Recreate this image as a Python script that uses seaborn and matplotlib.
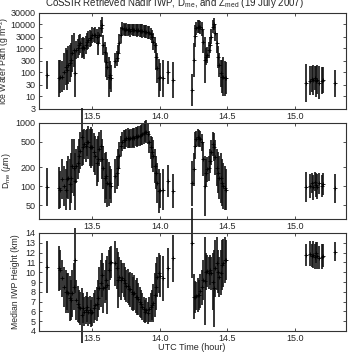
import matplotlib
matplotlib.use("Agg")
import matplotlib.pyplot as plt
import numpy as np
import pandas as pd
import seaborn as sns
from matplotlib.ticker import FixedLocator, FixedFormatter, NullLocator

# UTC time of each retrieval (hour)
times = [
    13.165,
    13.254, 13.262, 13.274, 13.289, 13.301, 13.309, 13.321,
    13.33, 13.34, 13.35, 13.36, 13.37, 13.38, 13.39, 13.40, 13.41, 13.42,
    13.43, 13.44, 13.45, 13.46, 13.47, 13.48, 13.49, 13.50, 13.51, 13.52,
    13.53, 13.54, 13.55, 13.56, 13.57, 13.58, 13.59, 13.60, 13.61, 13.62,
    13.63, 13.64,
    13.67, 13.68, 13.69, 13.70, 13.71, 13.72, 13.73, 13.74, 13.75, 13.76,
    13.77, 13.78, 13.79, 13.80, 13.81, 13.82, 13.83, 13.84, 13.85, 13.86,
    13.87, 13.88, 13.89, 13.90, 13.91, 13.92, 13.93, 13.94, 13.95, 13.96,
    13.97, 13.98, 13.99, 14.00,
    14.025, 14.062, 14.099,
    14.235,
    14.25, 14.26, 14.27, 14.28, 14.29, 14.30, 14.31, 14.32, 14.33, 14.34,
    14.35, 14.36, 14.37, 14.38, 14.39, 14.40, 14.41, 14.42, 14.43, 14.44,
    14.45, 14.46, 14.47, 14.48, 14.49,
    15.085, 15.11, 15.125, 15.135, 15.145, 15.155, 15.165, 15.18, 15.20, 15.21,
    15.295,
]

# ice water path (g m-2) and its multiplicative error
iwp = [
    80,
    57, 67, 67, 108, 174, 126, 204,
    240, 330, 626, 861, 92, 861, 1010, 1390, 1630, 1010,
    1190, 1010, 1390, 1920, 2250, 2640, 2640, 3630, 3630, 3630,
    3100, 1630, 3630, 6890, 9500, 1390, 734, 281, 174, 67,
    78, 57,
    310, 390, 626, 1630, 3630, 6890, 6500, 5870, 6200, 5870,
    6200, 5500, 6200, 5870, 5870, 5870, 5500, 5870, 5500, 5500,
    5300, 5300, 5000, 5000, 4700, 4600, 4000, 3100, 1920, 1390,
    455, 148, 57, 67,
    57, 100, 48,
    19,
    330, 3400, 6890, 8090, 8090, 7600, 6200, 1920, 330, 455,
    533, 861, 1390, 3100, 8090, 10100, 4600, 1630, 455, 204,
    92, 67, 67, 57, 57,
    35, 45, 55, 48, 60, 42, 50, 38, 45, 48,
    35,
]
iwp_err = [
    3.8,
    5.8, 4.9, 4.5, 5.8, 5.8, 6.8, 6.2,
    5.8, 4.9, 5.8, 4.9, 9.5, 2.45, 2.45, 2.6, 2.45, 2.6,
    2.6, 2.8, 2.45, 2.2, 2.45, 2.2, 2.1, 2.1, 1.9, 2.1,
    2.1, 3.1, 2.1, 2.2, 2.1, 2.6, 2.6, 4.2, 3.6, 6.8,
    4.0, 3.6,
    2.1, 2.1, 2.2, 2.45, 2.2, 1.9, 1.8, 1.75, 1.8, 1.8,
    1.75, 1.85, 1.75, 1.8, 1.85, 1.8, 1.85, 1.8, 1.9, 1.85,
    1.9, 1.85, 1.9, 1.85, 1.9, 1.85, 1.75, 1.9, 2.2, 2.2,
    3.6, 4.2, 6.2, 3.8,
    6.0, 3.0, 5.8,
    4.6,
    4.9, 2.9, 1.9, 1.9, 1.9, 1.9, 1.95, 3.1, 9.4, 2.2,
    2.2, 2.2, 2.2, 2.1, 1.9, 1.8, 2.2, 2.6, 2.9, 3.1,
    3.6, 4.9, 6.4, 5.3, 4.6,
    6.2, 4.0, 3.5, 4.2, 3.2, 4.4, 4.0, 4.8, 3.6, 3.4,
    3.7,
]

# median mass-equivalent diameter (um) and its multiplicative error
dme = [
    97,
    94, 88, 128, 100, 88, 128, 136,
    106, 136, 208, 196, 120, 208, 236, 301, 362, 600,
    409, 462, 435, 491, 491, 410, 410, 410, 341, 301,
    236, 267, 385, 435, 267, 196, 136, 145, 113, 107,
    113, 100,
    145, 163, 196, 301, 435, 503, 542, 542, 570, 575,
    556, 575, 575, 591, 575, 612, 605, 628, 628, 643,
    660, 684, 727, 727, 667, 503, 410, 341, 301, 208,
    163, 113, 83, 86,
    88, 120, 83,
    110,
    185, 435, 556, 591, 575, 556, 491, 267, 100, 163,
    185, 190, 250, 341, 462, 410, 284, 196, 163, 136,
    136, 113, 100, 94, 88,
    97, 100, 112, 95, 118, 105, 98, 110, 100, 108,
    92,
]
dme_err = [
    1.98,
    2.14, 1.96, 2.09, 2.09, 2.14, 1.96, 2.22,
    2.5, 2.5, 2.66, 2.83, 2.83, 1.84, 1.84, 1.84, 1.96, 2.9,
    1.89, 1.74, 1.8, 1.63, 1.8, 1.96, 2.14, 1.96, 2.03, 2.03,
    2.36, 2.3, 1.84, 1.8, 2.09, 2.22, 2.5, 2.36, 2.4, 2.22,
    1.84, 1.89,
    1.84, 1.84, 1.96, 1.63, 1.44, 1.41, 1.41, 1.41, 1.39, 1.43,
    1.41, 1.41, 1.41, 1.41, 1.43, 1.43, 1.45, 1.43, 1.45, 1.43,
    1.45, 1.45, 1.48, 1.52, 1.44, 1.5, 1.53, 1.74, 1.8, 1.84,
    1.84, 2.09, 2.22, 1.89,
    2.09, 1.8, 1.84,
    2.3,
    1.84, 1.63, 1.36, 1.36, 1.36, 1.36, 1.36, 1.84, 3.0, 1.63,
    1.59, 1.57, 1.53, 1.59, 1.53, 1.67, 1.89, 1.96, 2.09, 2.22,
    2.5, 2.36, 2.3, 2.22, 2.09,
    1.72, 1.55, 1.45, 1.6, 1.4, 1.55, 1.6, 1.45, 1.5, 1.5,
    1.7,
]

# median IWP height (km) and its +/- error (km)
zmed = [
    10.56,
    10.39, 10.22, 9.37, 8.52, 8.0, 8.0, 7.84,
    7.33, 7.16, 7.84, 8.52, 11.2, 7.16, 6.76, 6.48, 6.3, 5.6,
    6.31, 5.97, 6.14, 6.41, 5.97, 6.14, 5.80, 5.97, 6.31, 6.65,
    6.76, 7.33, 8.35, 8.86, 9.71, 8.35, 8.52, 9.20, 8.69, 10.22,
    10.90, 11.07,
    10.90, 10.39, 9.20, 9.54, 9.20, 9.37, 9.20, 8.86, 8.59, 8.59,
    8.25, 8.25, 8.01, 7.78, 7.91, 7.50, 7.50, 7.23, 7.0, 6.76,
    6.48, 6.21, 5.97, 6.14, 5.87, 6.21, 6.41, 6.65, 6.89, 7.67,
    8.52, 9.54, 9.88, 9.61,
    9.37, 10.39, 11.41,
    13.0,
    7.50, 7.50, 7.57, 7.67, 7.67, 8.08, 8.46, 9.20, 9.1, 10.05,
    10.15, 9.95, 10.22, 9.88, 9.03, 8.35, 10.39, 10.90, 10.05, 9.54,
    9.95, 10.73, 10.97, 11.24, 11.24,
    11.76, 11.9, 11.7, 11.8, 11.6, 12.0, 11.7, 11.5, 11.6, 11.7,
    12.1,
]
zmed_err = [
    2.65,
    2.28, 2.04, 1.87, 2.04, 2.2, 1.87, 2.04,
    2.28, 2.04, 2.38, 2.38, 3.3, 2.04, 1.8, 1.7, 1.7, 2.8,
    1.53, 1.46, 1.46, 1.53, 1.46, 1.46, 1.36, 1.46, 1.53, 1.53,
    1.77, 1.87, 2.21, 2.38, 2.21, 2.55, 1.7, 2.04, 3.0, 2.04,
    1.7, 1.63,
    2.28, 2.11, 2.89, 2.04, 2.04, 1.53, 1.77, 1.7, 1.63, 1.77,
    1.63, 1.77, 1.87, 1.77, 1.77, 1.7, 1.87, 1.63, 1.53, 1.46,
    1.36, 1.29, 1.19, 1.19, 1.12, 1.29, 1.46, 1.53, 1.94, 2.21,
    2.38, 2.04, 2.04, 2.11,
    2.28, 2.04, 2.38,
    3.6,
    2.28, 1.63, 1.46, 1.7, 1.53, 1.77, 1.77, 2.04, 4.5, 1.87,
    1.63, 1.63, 1.53, 1.7, 2.89, 3.9, 2.89, 2.72, 2.21, 2.04,
    2.28, 2.55, 2.45, 2.38, 2.04,
    1.1, 1.3, 1.2, 1.4, 1.3, 1.1, 1.4, 1.2, 1.3, 1.2,
    1.0,
]

iwp_ticks = [3, 10, 30, 100, 300, 1000, 3000, 10000, 30000]
dme_ticks = [50, 100, 200, 500, 1000]
zmed_ticks = [4, 5, 6, 7, 8, 9, 10, 11, 12, 13, 14]
time_ticks = [13.5, 14.0, 14.5, 15.0]

df = pd.DataFrame({"time": times})
df["iwp"] = iwp
df["iwp_lo"] = df["iwp"] / np.array(iwp_err)
df["iwp_hi"] = df["iwp"] * np.array(iwp_err)
df["dme"] = dme
df["dme_lo"] = df["dme"] / np.array(dme_err)
df["dme_hi"] = df["dme"] * np.array(dme_err)
df["zmed"] = zmed
df["zmed_lo"] = df["zmed"] - np.array(zmed_err)
df["zmed_hi"] = df["zmed"] + np.array(zmed_err)

sns.set_style("ticks")
plt.rcParams["font.family"] = ["Liberation Sans", "DejaVu Sans"]
plt.rcParams["mathtext.fontset"] = "custom"
plt.rcParams["mathtext.rm"] = "Liberation Sans"
plt.rcParams["mathtext.it"] = "Liberation Sans:italic"
plt.rcParams["font.size"] = 6.5

fig = plt.figure(figsize=(3.49, 3.53), dpi=100)
W, H = 349, 353
boxes = [(13, 109), (123, 219), (233, 331)]
axes = [fig.add_axes([39 / W, 1 - b / H, 307 / W, (b - t) / H]) for t, b in boxes]

panels = [
    ("iwp", "Ice Water Path (g m$^{-2}$)", (3, 30000), iwp_ticks, True, -0.09),
    ("dme", "D$_{\\rm me}$ ($\\mu$m)", (30, 1000), dme_ticks, True, -0.085),
    ("zmed", "Median IWP Height (km)", (4, 14), zmed_ticks, False, -0.062),
]

for ax, (col, label, lim, ticks, logy, lx) in zip(axes, panels):
    ax.vlines(df["time"], df[col + "_lo"], df[col + "_hi"], color="#121212",
              lw=1.2, clip_on=False, zorder=2)
    sns.scatterplot(data=df, x="time", y=col, ax=ax, marker="+", s=6,
                    color="black", linewidth=0.6, legend=False, zorder=3)
    if logy:
        ax.set_yscale("log")
    ax.set_ylim(*lim)
    ax.set_xlim(13.104, 15.378)
    ax.yaxis.set_major_locator(FixedLocator(ticks))
    ax.yaxis.set_major_formatter(FixedFormatter([str(v) for v in ticks]))
    ax.yaxis.set_minor_locator(NullLocator())
    ax.xaxis.set_major_locator(FixedLocator(time_ticks))
    ax.xaxis.set_major_formatter(FixedFormatter([f"{v:.1f}" for v in time_ticks]))
    ax.xaxis.set_minor_locator(NullLocator())
    ax.tick_params(direction="in", length=2.5, width=0.6, top=True, right=True,
                   pad=2.5, labelsize=6.5, color="#333333")
    for sp in ax.spines.values():
        sp.set_linewidth(0.8)
        sp.set_color("#333333")
    ax.set_ylabel(label, fontsize=6.2)
    ax.yaxis.set_label_coords(lx, 0.5)
    ax.set_xlabel("")

axes[2].set_xlabel("UTC Time (hour)", fontsize=6.5)
axes[2].xaxis.set_label_coords(0.497, -0.125)

fig.text(0.5, 0.992, "CoSSIR Retrieved Nadir IWP, D$_{\\rm me}$, and Z$_{\\rm med}$ (19 July 2007)",
         ha="center", va="center", fontsize=7)

fig.savefig("out.png", dpi=100)
